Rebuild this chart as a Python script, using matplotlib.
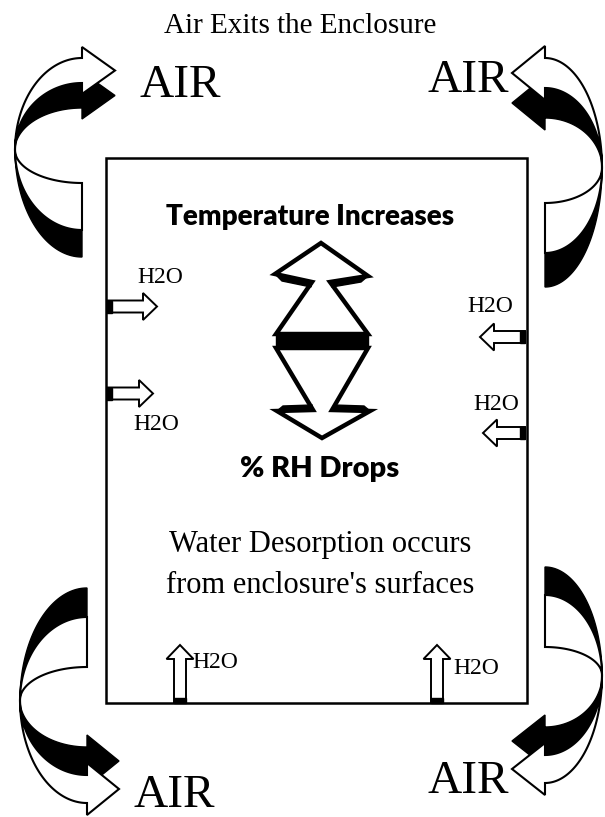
import numpy as np
import matplotlib
matplotlib.use("Agg")
import matplotlib.pyplot as plt
from matplotlib.patches import Polygon, Rectangle, FancyArrow

# text content of the diagram
title = "Air Exits the Enclosure"
air_labels = ["AIR", "AIR", "AIR", "AIR"]
h2o_labels = ["H2O"] * 6
top_caption = "Temperature Increases"
bottom_caption = "% RH Drops"
desorption_lines = ["Water Desorption occurs", "from enclosure's surfaces"]

SERIF = "Liberation Serif"
BOLD = "Lato"


def ribbon(ax, cx, py, rx, sx, sy, head_ys, flat_ys, head_len, ext):
    # twisted C-shaped ribbon; canonical: heads above the twist point, pointing right
    a0, a1, a2 = head_ys
    b0, b1, b2 = flat_ys
    t = np.linspace(0, np.pi / 2, 100)

    def px(x, y):
        return np.column_stack([cx + sx * np.asarray(x, float),
                                py + sy * np.asarray(y, float)])

    def up(a):
        return px(-rx * np.sin(t), -a * np.cos(t))

    def low(b):
        return px(-rx * np.sin(t), b * np.cos(t))

    black_head = px([0, head_len, 0], [-a1 - ext, -(a1 + a2) / 2, -a2 + ext])
    ax.add_patch(Polygon(np.vstack([up(a1)[::-1], black_head, up(a2)]),
                         closed=True, fc="black", ec="black", lw=1))
    white_head = px([0, head_len, 0], [-a0 - ext, -(a0 + a1) / 2, -a1 + ext])
    ax.add_patch(Polygon(np.vstack([up(a0)[::-1], white_head, up(a1)]),
                         closed=True, fc="white", ec="black", lw=1.5,
                         joinstyle="miter"))
    ax.add_patch(Polygon(np.vstack([low(b0), low(b1)[::-1]]),
                         closed=True, fc="black", ec="black", lw=1))
    ax.add_patch(Polygon(np.vstack([low(b1), low(b2)[::-1]]),
                         closed=True, fc="white", ec="black", lw=1.5))


def h2o_arrow(ax, x, y, dx, dy):
    length = np.hypot(dx, dy)
    ax.add_patch(FancyArrow(x, y, dx, dy, width=12, head_width=27,
                            head_length=14, length_includes_head=True,
                            fc="white", ec="black", lw=1.4, zorder=3))
    # dark tail end
    ux, uy = dx / length, dy / length
    tail = np.array([[x - 6 * uy, y + 6 * ux], [x + 6 * uy, y - 6 * ux],
                     [x + 6 * uy + 5 * ux, y - 6 * ux + 5 * uy],
                     [x - 6 * uy + 5 * ux, y + 6 * ux + 5 * uy]])
    ax.add_patch(Polygon(tail, closed=True, fc="black", ec="black", lw=1, zorder=4))


fig = plt.figure(figsize=(6.05, 8.17), dpi=100)
ax = fig.add_axes([0, 0, 1, 1])
ax.set_xlim(0, 605)
ax.set_ylim(817, 0)
ax.axis("off")

# enclosure
ax.add_patch(Rectangle((106, 158), 421, 545, fill=False, ec="black", lw=1.8))

# corner ribbons
ribbon(ax, 82, 150, 67, 1, 1, (92, 67, 42), (107, 80, 33), 33, 11)
ribbon(ax, 87, 700, 67, 1, -1, (103, 75, 47), (112, 83, 33), 32, 12)
ribbon(ax, 545, 168, 57, -1, 1, (110, 80, 50), (119, 85, 35), 33, 12)
ribbon(ax, 545, 675, 57, -1, -1, (108, 80, 52), (108, 80, 28), 33, 12)

# central double arrow
upper = [(321, 243), (368, 276), (330, 282), (368, 334),
         (276, 334), (312, 282), (275, 274)]
lower = [(276, 348), (368, 348), (332, 410), (370, 411),
         (322, 438), (277, 411), (313, 410)]
ax.add_patch(Polygon(upper, closed=True, fc="white", ec="black", lw=3.2, joinstyle="miter"))
ax.add_patch(Polygon(lower, closed=True, fc="white", ec="black", lw=3.2, joinstyle="miter"))
ax.add_patch(Rectangle((276, 334), 92, 14, fc="black", ec="black", lw=1))
for shadow in ([(275, 274), (312, 282), (311, 287), (282, 281)],
               [(368, 276), (330, 282), (332, 287), (361, 282)],
               [(277, 411), (313, 410), (312, 405), (283, 406)],
               [(370, 411), (332, 410), (334, 405), (364, 406)]):
    ax.add_patch(Polygon(shadow, closed=True, fc="black", ec="black", lw=1))

# H2O arrows
h2o_arrow(ax, 107, 306.5, 50, 0)
h2o_arrow(ax, 107, 393.5, 46, 0)
h2o_arrow(ax, 525, 337, -45, 0)
h2o_arrow(ax, 525, 433, -42, 0)
h2o_arrow(ax, 180, 703, 0, -58)
h2o_arrow(ax, 437, 703, 0, -58)

# texts
ax.text(300, 33, title, family=SERIF, fontsize=21, ha="center", va="baseline")
air_pos = [(140, 97), (428, 92), (133, 807), (428, 793)]
for (x, y), lab in zip(air_pos, air_labels):
    ax.text(x, y, lab, family=SERIF, fontsize=34, ha="left", va="baseline")

h2o_pos = [(137, 283), (133, 430), (467, 312), (473, 410), (192, 668), (453, 674)]
for (x, y), lab in zip(h2o_pos, h2o_labels):
    ax.text(x, y, lab, family=SERIF, fontsize=17, ha="left", va="baseline")

ax.text(310, 225, top_caption, family=BOLD, weight="heavy", fontsize=20,
        ha="center", va="baseline")
ax.text(320, 477, bottom_caption, family=BOLD, weight="heavy", fontsize=21,
        ha="center", va="baseline")
for i, line in enumerate(desorption_lines):
    ax.text(320, 552 + 41 * i, line, family=SERIF, fontsize=22,
            ha="center", va="baseline")

fig.savefig("out.png", dpi=100)
